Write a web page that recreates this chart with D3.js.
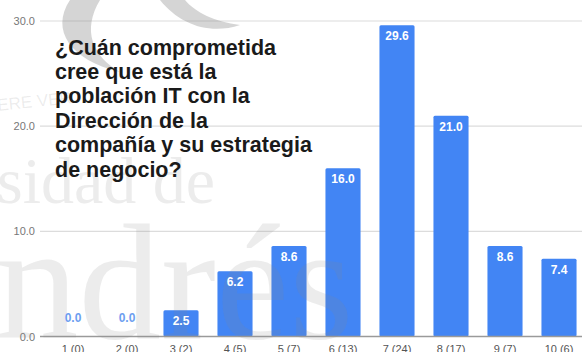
<!DOCTYPE html>
<html>
<head>
<meta charset="utf-8">
<script src="https://cdn.jsdelivr.net/npm/d3@7"></script>
<style>
  html, body { margin: 0; padding: 0; background: #fff; }
  svg { display: block; }
</style>
</head>
<body>
<svg id="chart" width="582" height="352"></svg>
<script>
// Survey answers: score (number of respondents) and share of answers in %
const categories = ["1 (0)", "2 (0)", "3 (2)", "4 (5)", "5 (7)", "6 (13)", "7 (24)", "8 (17)", "9 (7)", "10 (6)"];
const values = [0.0, 0.0, 2.5, 6.2, 8.6, 16.0, 29.6, 21.0, 8.6, 7.4];
const yTicks = [0, 10, 20, 30];
const titleLines = [
  "¿Cuán comprometida",
  "cree que está la",
  "población IT con la",
  "Dirección de la",
  "compañía y su estrategia",
  "de negocio?"
];

const W = 582, H = 352;
const svg = d3.select("#chart");

const x = d3.scaleBand()
  .domain(categories)
  .range([46, 586])
  .paddingInner(0.35)
  .paddingOuter(0.175);

const y = d3.scaleLinear()
  .domain([0, 30])
  .range([336.5, 21]);

const barColor = "#4285f4";

// horizontal gridlines
svg.append("g")
  .selectAll("line")
  .data(yTicks.filter(d => d !== 0))
  .join("line")
  .attr("x1", 40).attr("x2", W)
  .attr("y1", d => y(d)).attr("y2", d => y(d))
  .attr("stroke", "#dcdcdc")
  .attr("stroke-width", 1.2);

// y axis labels
const yAxis = d3.axisLeft(y)
  .tickValues(yTicks)
  .tickFormat(d3.format(".1f"))
  .tickSize(0)
  .tickPadding(0);
const gy = svg.append("g").attr("transform", "translate(35,0)").call(yAxis);
gy.select(".domain").remove();
gy.selectAll("text")
  .attr("fill", "#777")
  .style("font-family", "'Liberation Sans', Arial, sans-serif")
  .style("font-size", "11px");

// bars
svg.append("g")
  .selectAll("rect")
  .data(values)
  .join("rect")
  .attr("x", (d, i) => x(categories[i]))
  .attr("width", x.bandwidth())
  .attr("y", d => y(d))
  .attr("height", d => y(0) - y(d))
  .attr("rx", 1.5)
  .attr("fill", barColor);

// baseline
svg.append("line")
  .attr("x1", 40).attr("x2", W)
  .attr("y1", y(0)).attr("y2", y(0))
  .attr("stroke", "#9a9a9a")
  .attr("stroke-width", 1.6);

// faint institutional watermark
const wm = svg.append("g")
  .attr("fill", "#888")
  .attr("fill-opacity", 0.16)
  .style("font-family", "'Liberation Serif', 'DejaVu Serif', serif");
wm.append("text")
  .attr("x", -3).attr("y", 203)
  .style("font-size", "66px")
  .text("sidad de");
wm.append("text")
  .attr("x", -4).attr("y", 338)
  .style("font-size", "165px")
  .text("ndrés");
wm.append("text")
  .attr("transform", "translate(-2,111) rotate(-6)")
  .style("font-family", "'Liberation Sans', Arial, sans-serif")
  .style("font-size", "17px")
  .text("ERE VER");
wm.append("path")
  .attr("d", "M70,0 C50,30 70,60 120,72 C92,56 82,30 100,0 Z M160,0 C180,25 210,35 240,25 C215,22 195,12 185,0 Z")
  .attr("fill-opacity", 0.35);

// value labels
svg.append("g")
  .selectAll("text")
  .data(values)
  .join("text")
  .attr("x", (d, i) => x(categories[i]) + x.bandwidth() / 2)
  .attr("y", d => d === 0 ? y(0) - 15 : y(d) + 15)
  .attr("text-anchor", "middle")
  .attr("fill", d => d === 0 ? "#6d9ef0" : "#fff")
  .style("font-family", "'Liberation Sans', Arial, sans-serif")
  .style("font-size", "12px")
  .style("font-weight", "bold")
  .text(d => d3.format(".1f")(d));

// x axis category labels
const xAxis = d3.axisBottom(x).tickSize(0).tickPadding(0);
const gx = svg.append("g").attr("transform", `translate(0,${y(0) + 9})`).call(xAxis);
gx.select(".domain").remove();
gx.selectAll("text")
  .attr("fill", "#555")
  .attr("dy", "0.71em")
  .style("font-family", "'Liberation Sans', Arial, sans-serif")
  .style("font-size", "11px");

// question text
svg.append("g")
  .selectAll("text")
  .data(titleLines)
  .join("text")
  .attr("x", 55)
  .attr("y", (d, i) => 54.5 + i * 24.4)
  .attr("fill", "#1a1a1a")
  .style("font-family", "'Liberation Sans', Arial, sans-serif")
  .style("font-size", "21.5px")
  .style("font-weight", "bold")
  .text(d => d);
</script>
</body>
</html>
